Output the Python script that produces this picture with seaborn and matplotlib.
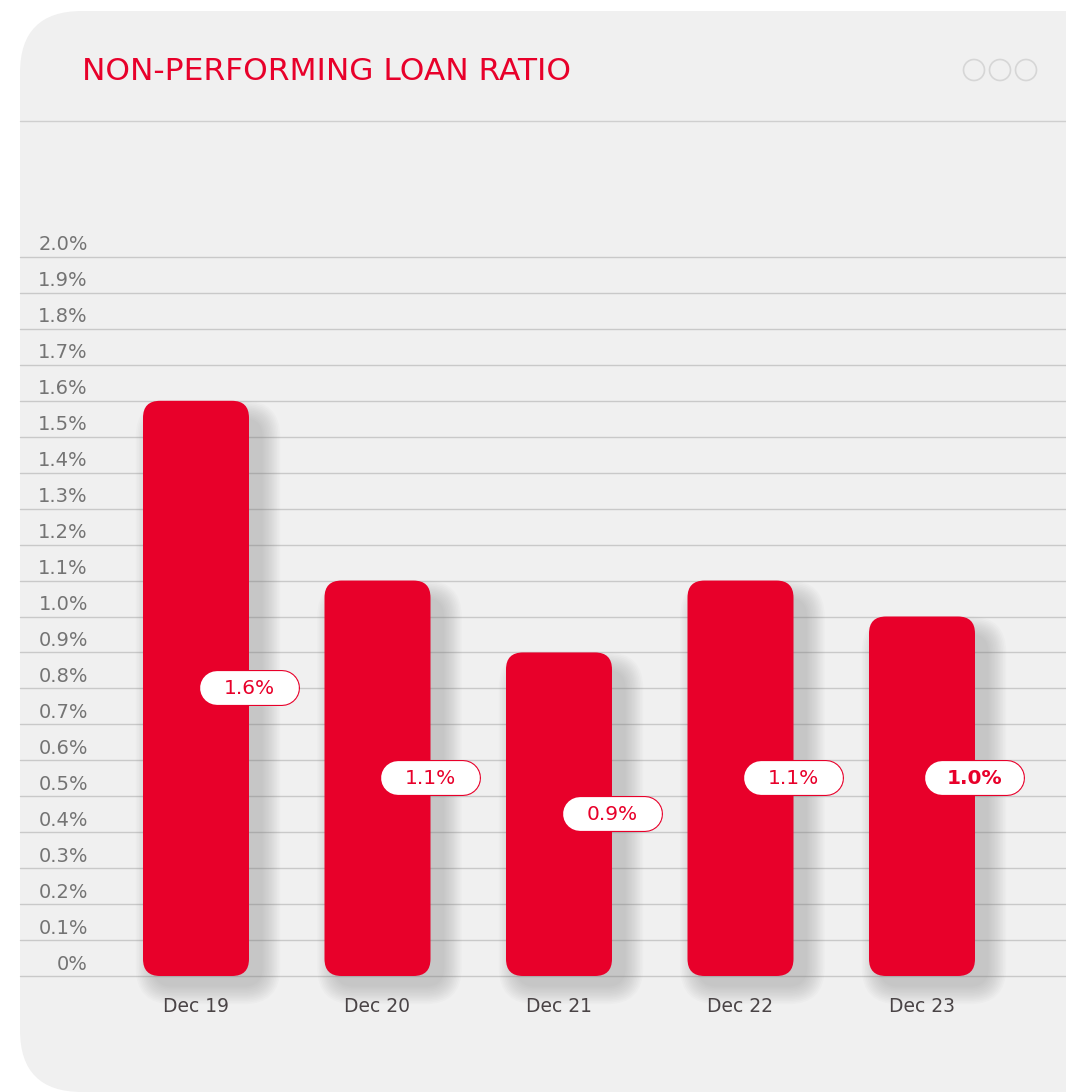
import numpy as np
import pandas as pd
import matplotlib
matplotlib.use("Agg")
import matplotlib.pyplot as plt
import matplotlib.transforms as mtrans
from matplotlib.patches import FancyBboxPatch, Circle
from matplotlib.lines import Line2D
import seaborn as sns

# ---------------- data ----------------
categories = ["Dec 19", "Dec 20", "Dec 21", "Dec 22", "Dec 23"]
values = [1.6, 1.1, 0.9, 1.1, 1.0]
value_labels = ["1.6%", "1.1%", "0.9%", "1.1%", "1.0%"]
label_heights = [0.8, 0.55, 0.45, 0.55, 0.55]
bold_label = [False, False, False, False, True]
ytick_values = [round(0.1 * i, 1) for i in range(21)]
ytick_labels = ["0%"] + [f"{v:.1f}%" for v in ytick_values[1:]]
title = "NON-PERFORMING LOAN RATIO"

RED = "#e8002a"
CARD = "#f0f0f0"
GRID = "#c9c9c9"

W, H, DPI = 1066, 1092, 100
sns.set_theme(style="white")
plt.rcParams["font.family"] = ["DejaVu Sans"]

fig = plt.figure(figsize=(W / DPI, H / DPI), dpi=DPI, facecolor="white")

def fx(px):
    return px / W

def fy(py):
    return (H - py) / H

# card background
card = FancyBboxPatch((fx(20), fy(1092)), fx(1140) - fx(20), fy(11) - fy(1092),
                      boxstyle="round,pad=0,rounding_size=0.058",
                      mutation_aspect=W / H,
                      transform=fig.transFigure, facecolor=CARD, edgecolor="none", zorder=-5)
fig.patches.append(card)

# title
fig.text(fx(82), fy(71), title, color=RED, fontsize=22.5, fontweight="normal",
         ha="left", va="center", zorder=5)
# rule under title
fig.add_artist(Line2D([fx(20), fx(1066)], [fy(121), fy(121)], color="#cfcfcf", lw=1.0,
                      transform=fig.transFigure, zorder=5))
# three circles
for cx in (974, 1000, 1026):
    fig.add_artist(Circle((cx, H - 70), 10.5, transform=None, facecolor="none",
                          edgecolor="#d6d6d6", lw=1.2, zorder=5))

# axes
x0 = 196.0
step = 181.5
ax_left, ax_right = 20, 1066
ax = fig.add_axes([fx(ax_left), fy(976), fx(ax_right) - fx(ax_left), fy(257) - fy(976)])
ax.set_facecolor("none")
ax.set_zorder(2)

df = pd.DataFrame({"period": categories, "ratio": values})
sns.barplot(data=df, x="period", y="ratio", color=RED, width=106 / step, ax=ax,
            saturation=1)

ax.set_xlim((ax_left - x0) / step, (ax_right - x0) / step)
ax.set_ylim(0, 2.0)
for s in ax.spines.values():
    s.set_visible(False)
ax.set_xticks([])
ax.set_yticks([])
ax.set_xlabel("")
ax.set_ylabel("")

# gridlines
for v in ytick_values:
    ax.axhline(v, color=GRID, lw=1.0, zorder=0.5, clip_on=False)

# y tick labels (above gridlines)
ylab_tr = mtrans.offset_copy(ax.get_yaxis_transform(), fig=fig, y=12, units="dots")
for v, lab in zip(ytick_values, ytick_labels):
    ax.text((88 - ax_left) / (ax_right - ax_left), v, lab, transform=ylab_tr,
            ha="right", va="center", fontsize=14, color="#747474", clip_on=False)

# rounded bars with shadow
ux = step          # px per x unit
uy = 719 / 2.0     # px per y unit
aspect = (1 / uy) / (1 / ux)
bars = list(ax.patches)
for p in bars:
    bx, by, bw, bh = p.get_x(), p.get_y(), p.get_width(), p.get_height()
    p.remove()
    r = 17 / ux
    # shadow layers
    for i in range(12, 0, -1):
        e = i * 1.6
        sh = FancyBboxPatch((bx + (12 - e) / ux, by - (9 + e) / uy),
                            bw + 2 * e / ux, bh + 2 * e / uy - 10 / uy,
                            boxstyle=f"round,pad=0,rounding_size={r + e / ux}",
                            mutation_aspect=aspect, facecolor="#7a7a7a",
                            edgecolor="none", alpha=0.03, zorder=1, clip_on=False)
        ax.add_patch(sh)
    bar = FancyBboxPatch((bx, by), bw, bh,
                         boxstyle=f"round,pad=0,rounding_size={r}",
                         mutation_aspect=aspect, facecolor=RED, edgecolor="none",
                         zorder=2, clip_on=False)
    ax.add_patch(bar)

# value pills (stadium shapes drawn as round-capped thick lines)
pill_w_px, pill_h_px = 101, 36
half_inner = (pill_w_px - pill_h_px) / 2 / ux
lw_outer = pill_h_px * 72 / DPI
lw_inner = (pill_h_px - 2.2) * 72 / DPI
for p, lab, hy, b in zip(bars, value_labels, label_heights, bold_label):
    cx = p.get_x() + p.get_width()
    ax.plot([cx - half_inner, cx + half_inner], [hy, hy], color=RED, lw=lw_outer,
            solid_capstyle="round", zorder=3, clip_on=False)
    ax.plot([cx - half_inner, cx + half_inner], [hy, hy], color="white", lw=lw_inner,
            solid_capstyle="round", zorder=3.5, clip_on=False)
    ax.text(cx, hy, lab, ha="center", va="center", color=RED, fontsize=14.5,
            fontweight="bold" if b else "normal", zorder=4)

# x labels
xlab_tr = mtrans.offset_copy(ax.get_xaxis_transform(), fig=fig, y=-30, units="dots")
for i, c in enumerate(categories):
    ax.text(i, 0, c, transform=xlab_tr, ha="center", va="center", fontsize=13.5,
            color="#4a4446", clip_on=False)

fig.savefig("out.png", dpi=DPI, facecolor="white")
